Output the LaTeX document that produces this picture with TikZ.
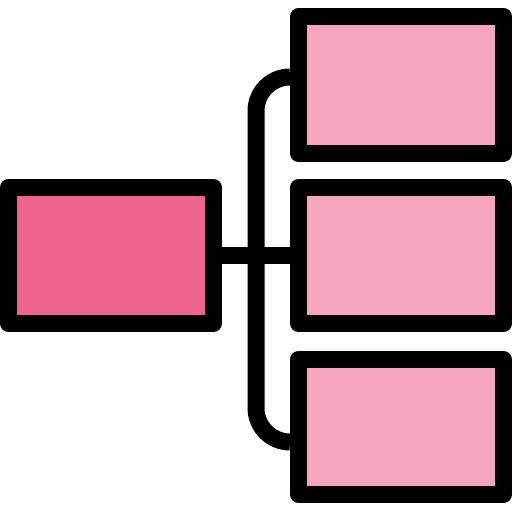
\documentclass[tikz,border=0pt]{standalone}
\usepackage{xcolor}
\usepackage{tikz}
\usetikzlibrary{positioning}
\definecolor{rootpink}{HTML}{EE648C}
\definecolor{leafpink}{HTML}{F5A6BC}

\begin{document}
\begin{tikzpicture}[x=1pt,y=-1pt,
    box/.style={draw=black, line width=17pt, line join=round, rectangle, minimum width=205pt, inner sep=0pt},
    link/.style={draw=black, line width=17pt}]
    \useasboundingbox (0,0) rectangle (512,512);

    % Root box
    \node[box, fill=rootpink, minimum height=136pt] (root) at (111,255.5) {};

    % Leaf boxes
    \node[box, fill=leafpink, minimum height=137pt] (top) at (401,85) {};
    \node[box, fill=leafpink, minimum height=136pt] (mid) at (401,255.5) {};
    \node[box, fill=leafpink, minimum height=135pt] (bot) at (401,427) {};

    % Joins
    \coordinate (trunk) at (256,255.5);
    \coordinate (topjoin) at ([yshift=8pt]top.west);
    \coordinate (botjoin) at ([yshift=-15pt]bot.west);

    % Connectors
    \draw[link] (root.east) -- (mid.west);
    \draw[link, rounded corners=34pt] (topjoin) -| (trunk) |- (botjoin);
\end{tikzpicture}
\end{document}
